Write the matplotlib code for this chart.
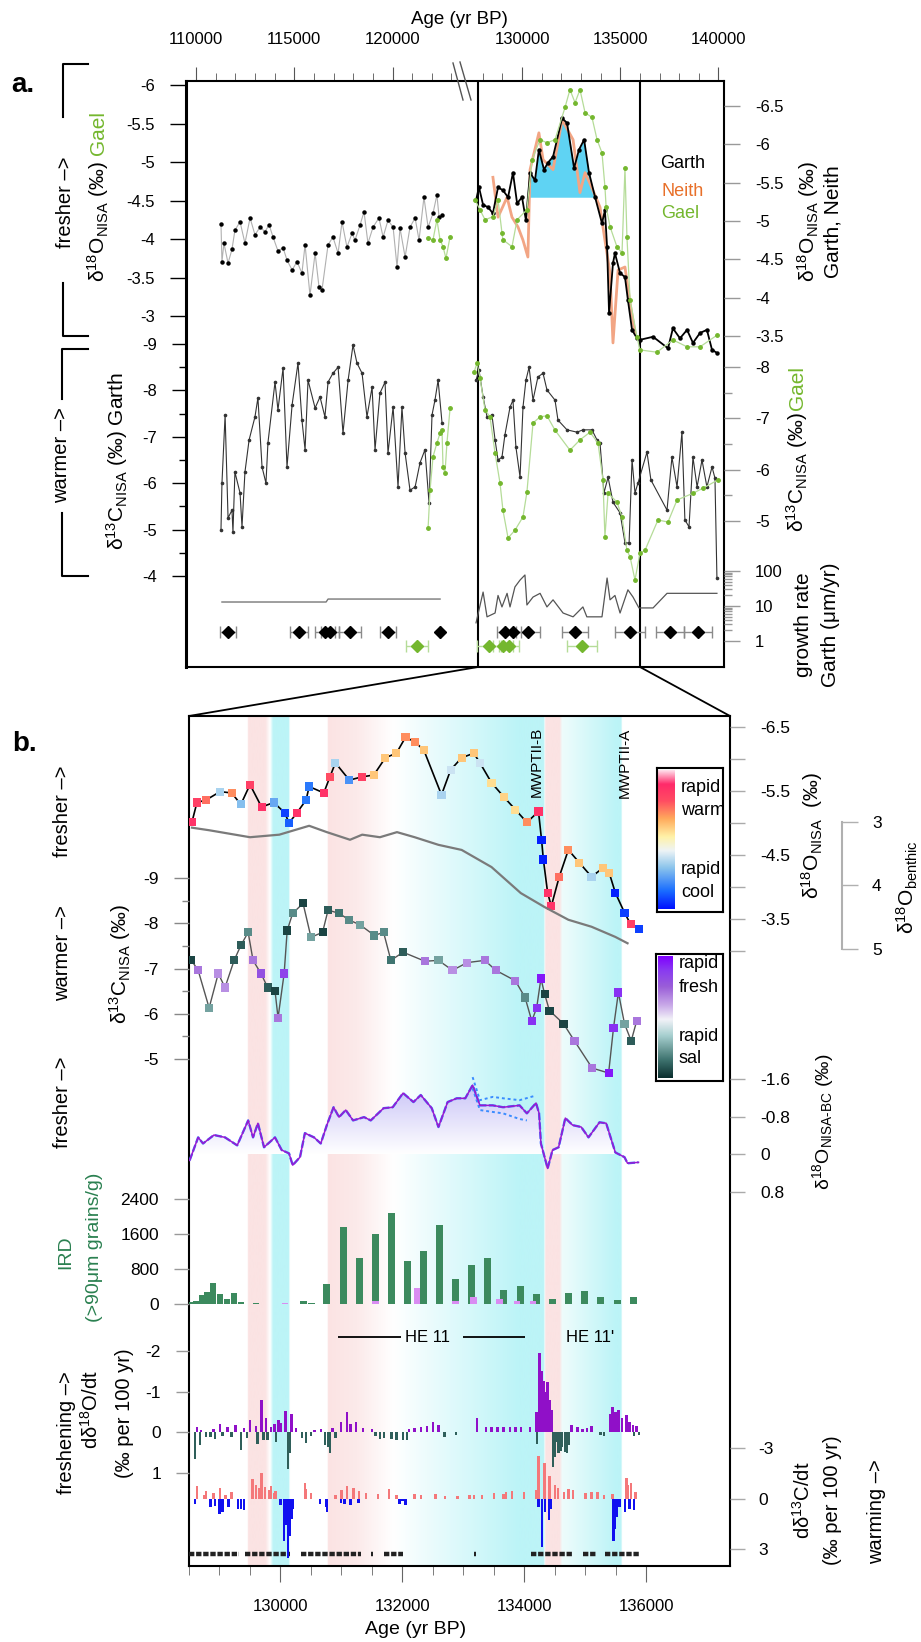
import numpy as np
import matplotlib
matplotlib.use("Agg")
import matplotlib.pyplot as plt
from matplotlib.colors import LinearSegmentedColormap, to_rgb
from matplotlib.lines import Line2D
from matplotlib.patches import ConnectionPatch
from matplotlib.ticker import NullFormatter

plt.rcParams["font.family"] = ["Liberation Sans", "DejaVu Sans"]
plt.rcParams["mathtext.fontset"] = "custom"
plt.rcParams["mathtext.rm"] = "Liberation Sans"
plt.rcParams["mathtext.it"] = "Liberation Sans:italic"
plt.rcParams["mathtext.default"] = "regular"
plt.rcParams["axes.unicode_minus"] = False

# ---------------- panel a data ----------------
# Garth d18O (right axis), left segment
ga_o_age_l = [111270,111320,111420,111630,111830,111980,112240,112490,112750,113000,
              113260,113510,113720,113920,114170,114430,114630,114890,115140,115390,
              115550,115800,116060,116260,116410,116720,116970,117230,117430,117680,
              117940,118090,118350,118550,118750,119010,119310,119520,119770,120030,
              120230,120380,120640,120890,121150,121350,121600,121810,122060,122260,
              122370,122520]
ga_o_val_l = [-4.96,-4.47,-4.71,-4.45,-4.63,-4.88,-4.99,-4.71,-5.04,-4.82,
              -4.92,-4.86,-4.95,-4.79,-4.61,-4.65,-4.49,-4.36,-4.47,-4.32,
              -4.69,-4.03,-4.58,-4.14,-4.10,-4.69,-4.79,-4.58,-4.99,-4.66,
              -4.84,-4.75,-4.95,-5.12,-4.71,-4.92,-5.04,-4.79,-5.01,-4.92,
              -4.40,-4.91,-4.53,-4.92,-5.04,-4.75,-5.31,-4.92,-5.10,-5.34,
              -5.05,-5.08]
# Garth d18O, right segment
ga_o_age_r = [127660,127810,128020,128270,128520,128780,129030,129290,129540,129750,
              130000,130200,130410,130660,130860,131120,131320,131580,132040,132290,
              132650,132900,133160,133410,133720,134070,134220,134330,134430,134630,
              134730,134990,135240,135390,135600,135850,136000,136670,137430,137680,
              138040,138400,138700,139060,139410,139670,139920]
ga_o_val_r = [-5.27,-5.44,-5.21,-5.18,-5.10,-5.44,-5.40,-5.31,-5.63,-5.23,
              -5.31,-5.01,-5.63,-5.53,-5.93,-5.67,-5.76,-5.84,-6.34,-6.28,
              -5.69,-5.93,-6.06,-5.63,-5.31,-4.97,-5.14,-4.66,-3.80,-4.45,
              -4.58,-4.32,-4.27,-3.97,-3.58,-3.47,-3.45,-3.49,-3.34,-3.60,
              -3.47,-3.58,-3.41,-3.54,-3.58,-3.32,-3.28]
# Neith d18O (right axis)
ne_age = [128520,128780,129240,129490,129800,130050,130300,130410,130860,131070,131580,132040,
          132600,132950,133210,133610,133970,134220,134480,134630,134890,135240,135500,135750]
ne_val = [-5.57,-5.05,-5.31,-5.05,-4.92,-4.75,-4.53,-5.67,-6.15,-5.80,-5.67,-6.32,
          -6.06,-5.37,-5.63,-5.40,-5.18,-4.75,-4.32,-3.41,-4.36,-4.40,-3.93,-3.54]
# Gael d18O (left axis)
ge_o_age_l = [121810,122060,122260,122420,122570,122720,122930]
ge_o_val_l = [-4.01,-3.99,-4.25,-3.99,-3.90,-3.75,-4.03]
ge_o_age_r = [127610,127860,128120,128520,128780,128980,129030,129490,129750,130250,
              130510,130920,131270,131680,132190,132440,132700,132950,133210,133560,
              133820,134070,134220,134280,134480,134830,135090,135240,135340,135500,
              135850,136000,136870,137680,138400,139060,139920]
ge_o_val_r = [-4.51,-4.38,-4.25,-4.29,-4.51,-4.08,-3.99,-3.90,-4.25,-4.38,
              -5.03,-5.29,-5.25,-5.29,-5.71,-5.94,-5.77,-5.94,-5.64,-5.58,
              -5.29,-5.12,-4.68,-4.42,-4.16,-3.90,-3.82,-4.92,-4.03,-3.21,
              -2.73,-2.56,-2.53,-2.69,-2.60,-2.60,-2.75]
# cyan fill under the Garth peak
FILL_LO, FILL_HI, FILL_BASE = 130200, 133720, -5.31

# Garth d13C (left axis)
gc_age_l = [111270,111320,111480,111630,111830,111880,111980,112240,112340,112490,
            112700,113000,113150,113360,113560,113660,114020,114170,114430,114630,
            114890,115190,115390,115550,115700,116060,116310,116560,116720,116970,
            117230,117480,117740,117990,118190,118450,118700,118960,119110,119360,
            119620,119770,120030,120280,120480,120640,120890,121150,121400,121650,
            121860,122010,122160,122320,122520]
gc_val_l = [-4.99,-6.00,-7.47,-5.25,-5.42,-4.95,-6.24,-5.79,-5.06,-6.24,
            -6.93,-7.43,-7.84,-6.35,-6.00,-6.87,-8.18,-7.58,-8.48,-6.35,
            -7.69,-8.59,-7.36,-6.72,-8.22,-7.62,-7.86,-7.43,-8.18,-8.37,
            -8.50,-7.08,-8.22,-8.98,-8.59,-8.37,-7.43,-8.07,-6.72,-7.94,
            -8.18,-6.65,-7.64,-5.92,-7.64,-6.65,-5.85,-5.92,-6.44,-6.72,
            -5.57,-7.47,-7.79,-8.22,-7.30]
gc_age_r = [127660,127810,128020,128220,128470,128630,128780,128980,129130,129390,
            129540,129690,129900,130050,130200,130360,130560,130810,131070,131270,
            131680,131830,132290,132800,133100,133560,133820,133970,134170,134380,
            134630,134990,135240,135450,135600,135750,135900,136360,136560,137380,
            137630,137890,138140,138290,138500,138700,138910,139160,139410,139670,
            139820,139920]
gc_val_r = [-8.22,-8.44,-7.86,-7.43,-7.47,-6.93,-6.50,-6.56,-7.04,-7.64,
            -7.79,-6.78,-6.13,-7.64,-8.22,-8.50,-7.79,-8.29,-8.37,-8.01,
            -7.79,-7.36,-7.15,-7.10,-7.15,-7.15,-6.93,-6.87,-5.79,-6.13,
            -5.59,-5.36,-4.72,-4.71,-6.50,-5.79,-6.00,-6.67,-6.07,-5.42,
            -6.56,-5.92,-7.10,-5.21,-5.06,-6.56,-5.92,-6.50,-5.92,-6.35,
            -6.11,-3.96]
# Gael d13C (right axis)
ge_c_age_l = [121810,121910,122060,122260,122420,122520,122570,122670,122770,122930]
ge_c_val_l = [-4.86,-5.60,-6.25,-6.52,-6.71,-6.77,-6.05,-5.93,-6.52,-7.20]
ge_c_age_r = [127560,127710,127860,128120,128370,128630,128880,129030,129290,129640,
              130050,130250,130560,130920,131270,131680,132440,132950,133460,133870,
              134120,134220,134380,134830,135090,135340,135500,135750,136000,136260,
              136920,137430,137890,138700,139210,139970]
ge_c_val_r = [-7.90,-8.08,-7.79,-7.16,-7.03,-6.32,-5.74,-5.21,-4.67,-4.82,
              -5.08,-5.56,-6.91,-7.03,-7.05,-6.77,-6.38,-6.58,-6.73,-6.52,
              -5.80,-4.69,-5.54,-5.37,-5.08,-4.43,-4.30,-3.85,-4.37,-4.43,
              -5.02,-4.98,-5.41,-5.54,-5.64,-5.80]
# growth rate (um/yr)
gr_age_l = [111320,116620,116720,122420]
gr_val_l = [13,13,15.8,15.8]
gr_age_r = [127660,128020,128220,128630,128780,128980,129240,129390,129640,129900,
            130150,130250,130560,130920,131270,131580,132090,132600,133100,133300,
            134070,134330,134480,134730,134990,135390,135650,135950,136670,137380,
            139920]
gr_val_r = [3.3,25,4.9,6.3,20,9.4,23,9.4,35,55,
            77,10.7,18,23,9.4,15,6.3,4.9,9.4,4.9,
            4.9,63,15,20,6.3,29,18,8.8,8.8,23,
            23]
# U-Th dates
garth_dates = [111630,115240,116560,116820,117840,119770,122420,129130,129540,130300,132700,135500,137530,138960]
garth_err = [420,450,500,450,570,420,0,400,400,630,680,780,720,720]
gael_dates = [121250,128320,129030,129340,133050]
gael_err = [540,600,500,500,760]

# ---------------- panel b data ----------------
o_age = [128550,128630,128780,129010,129200,129350,129500,129690,129890,130070,
         130140,130270,130420,130470,130710,130810,130900,131130,131330,131530,
         131720,131900,132050,132200,132350,132640,132790,132970,133170,133270,
         133460,133660,133850,134040,134230,134280,134310,134380,134440,134570,
         134720,134900,135100,135290,135390,135490,135640,135740,135880]
o_val = [-5.02,-5.32,-5.36,-5.49,-5.47,-5.29,-5.60,-5.25,-5.32,-5.16,
         -5.00,-5.16,-5.36,-5.57,-5.47,-5.72,-5.94,-5.67,-5.72,-5.75,
         -6.02,-6.09,-6.34,-6.27,-6.14,-5.44,-5.83,-6.02,-6.09,-5.94,
         -5.63,-5.41,-5.21,-5.01,-5.18,-4.74,-4.43,-3.91,-3.70,-4.16,
         -4.58,-4.38,-4.16,-4.30,-4.22,-3.91,-3.60,-3.42,-3.34]
o_rate = [0.9,0.8,0.6,-0.3,0.5,-0.4,0.8,0.9,-0.5,-0.9,
          -0.8,0.9,-0.7,-0.7,0.9,0.7,-0.3,-0.6,0.8,0.3,
          0.3,0.3,0.5,0.5,0.3,-0.3,-0.2,0.3,0.3,-0.2,
          0.2,0.25,0.2,0.5,0.9,-1,-1,0.9,0.9,0.6,
          0.5,0.3,-0.3,0.3,0.3,-1,-0.9,0.8,-0.9]
c_age = [128540,128650,128830,128980,129090,129240,129350,129470,129550,129680,
         129790,129910,129960,130060,130110,130200,130370,130500,130690,130780,
         130960,131130,131310,131540,131690,131810,132010,132370,132590,132820,
         133060,133350,133530,133850,134010,134120,134200,134270,134330,134410,
         134640,134820,135110,135380,135460,135540,135640,135750,135840]
c_val = [-7.18,-6.96,-6.13,-6.89,-6.58,-7.18,-7.51,-7.80,-7.18,-6.89,
         -6.58,-6.51,-5.91,-6.89,-7.84,-8.22,-8.44,-7.69,-7.80,-8.29,
         -8.22,-8.07,-7.96,-7.73,-7.80,-7.18,-7.36,-7.16,-7.18,-6.96,
         -7.13,-7.18,-6.96,-6.73,-6.36,-5.84,-6.13,-6.78,-6.44,-6.07,
         -5.78,-5.40,-4.80,-4.69,-5.69,-6.47,-5.78,-5.40,-5.84]
c_rate = [-0.9,0.4,-0.5,0.3,0.3,-0.8,-0.8,-0.6,0.4,0.6,
          -0.8,-0.9,0.4,0.7,-0.9,-0.6,-0.9,-0.5,-0.9,-0.8,
          -0.7,-0.6,-0.5,-0.6,-0.6,-0.7,-0.8,0.4,-0.5,0.3,
          0.3,0.4,0.4,0.4,-0.6,0.8,0.8,0.9,-0.9,-0.9,
          -0.9,0.4,0.4,0.9,0.8,0.8,-0.5,-0.8,0.4]
bt_age = [128550,128830,129500,129980,130470,130760,131140,131340,131630,131910,
          132200,132590,132970,133460,133940,134330,134720,135100,135490,135690]
bt_val = [3.09,3.13,3.24,3.20,3.06,3.16,3.28,3.20,3.24,3.16,
          3.24,3.36,3.44,3.71,4.12,4.34,4.54,4.65,4.81,4.91]
bc_age = [128510,128650,128730,128910,129090,129290,129470,129550,129630,129730,
          129910,130020,130140,130200,130320,130400,130550,130660,130760,130870,
          130960,131070,131190,131370,131480,131690,131840,132010,132180,132300,
          132480,132590,132740,132890,133030,133150,133270,133480,133650,133920,
          134040,134190,134240,134270,134330,134380,134460,134560,134670,134790,
          134930,135050,135230,135340,135490,135640,135690,135870]
bc_val = [0.13,-0.36,-0.23,-0.41,-0.36,-0.19,-0.72,-0.36,-0.66,-0.15,
          -0.36,-0.09,-0.02,0.23,0.06,-0.45,-0.36,-0.23,-0.62,-1.00,
          -0.79,-0.94,-0.72,-0.79,-0.72,-0.98,-1.00,-1.30,-1.11,-1.26,
          -0.98,-0.58,-1.11,-1.19,-1.19,-1.47,-1.04,-1.04,-1.00,-1.04,
          -0.87,-1.09,-0.87,-0.23,0.06,0.30,-0.09,-0.15,-0.77,-0.62,
          -0.58,-0.36,-0.68,-0.66,-0.04,0.06,0.19,0.17]
bc_hi_age = [133150,133270,133480,133650,133920,134190]
bc_hi_val = [-1.64,-1.15,-1.22,-1.19,-1.15,-1.25]
bc_lo_age = [133150,133270,133480,133650,133920,134040]
bc_lo_val = [-1.40,-0.94,-0.90,-0.87,-0.75,-0.72]
ird_age = [128517,128615,128714,128795,128894,129008,129123,129237,129352,129597,
           130072,130383,130514,130759,131038,131300,131562,131823,132085,132347,
           132609,132871,133133,133394,133656,133934,134196,134458,134720,134982,
           135244,135522,135784]
ird_val = [50,60,200,270,490,220,110,240,40,30,
           20,60,30,460,1750,1040,1590,2080,990,1200,
           1810,580,880,1040,320,410,220,120,250,290,
           170,100,160]
ird_p_age = [130072,131562,132240,132871,133170,133590,133880,134140]
ird_p_val = [20,60,360,60,170,120,60,60]
ofresh_age = [128630,128700,128900,129010,129130,129260,129400,129500,129600,129690,
              129760,129840,129900,129970,130000,130080,130180,130250,130560,130660,
              130850,130990,131090,131150,131240,131350,131500,132110,132200,132300,
              132400,132500,132590,133220,133370,133460,133560,133660,133760,133850,
              133940,134090,134200,134250,134280,134310,134340,134380,134410,134450,
              134770,134870,134950,135030,135100,135400,135440,135490,135540,135600,
              135670,135720,135780,135840]
ofresh_val = [-0.13,-0.05,-0.08,-0.2,-0.12,-0.17,-0.1,-0.3,-0.15,-0.79,
              -0.35,-0.13,-0.2,-0.3,-0.22,-0.52,-0.46,-0.1,-0.06,-0.09,
              -0.1,-0.25,-0.5,-0.2,-0.25,-0.1,-0.08,-0.09,-0.1,-0.13,
              -0.15,-0.25,-0.17,-0.36,-0.13,-0.12,-0.13,-0.12,-0.13,-0.12,
              -0.13,-0.13,-0.5,-1.95,-1.5,-1.27,-1.0,-1.23,-0.8,-0.54,
              -0.17,-0.12,-0.09,-0.1,-0.15,-0.45,-0.62,-0.5,-0.55,-0.35,
              -0.42,-0.25,-0.17,-0.15]
osal_age = [128600,128680,128780,128850,128930,129050,129200,129350,129450,129620,
            129720,129790,129930,130120,130160,130350,130420,130500,130730,130780,
            130810,130900,131560,131630,131700,131820,131900,132010,132070,132690,
            132880,134210,134470,134490,134530,134560,134600,134620,134670,134700,
            134730,135250,135300,135800,135880]
osal_val = [0.65,0.3,0.11,0.12,0.16,0.1,0.12,0.44,0.15,0.28,
            0.2,0.2,0.25,0.89,0.5,0.15,0.26,0.1,0.32,0.35,
            0.52,0.15,0.1,0.16,0.15,0.16,0.18,0.18,0.2,0.11,
            0.07,0.28,0.85,0.6,0.24,0.5,0.45,0.35,0.48,0.5,
            0.3,0.07,0.1,0.1,0.07]
cwarm_age = [128630,128750,128780,128900,129010,129100,129200,129540,129600,129650,
             129690,129750,129820,129840,129900,129920,130400,130420,130500,130900,
             131000,131090,131200,131290,131400,131600,131780,131900,132200,132300,
             132540,132700,132900,133100,133170,133300,133500,133660,133700,133800,
             133990,134200,134230,134330,134410,134500,134550,134650,134720,134800,
             135000,135100,135200,135300,135440,135670,135700,135750,135820]
cwarm_val = [-0.73,-0.2,-0.45,-0.3,-0.65,-0.2,-0.36,-1.15,-0.8,-0.6,
             -1.5,-0.7,-0.5,-0.75,-0.3,-0.45,-0.9,-0.55,-0.3,-0.2,
             -0.5,-0.75,-0.6,-0.45,-0.3,-0.25,-0.55,-0.2,-0.26,-0.2,
             -0.26,-0.15,-0.15,-0.2,-0.2,-0.2,-0.3,-0.26,-0.4,-0.45,
             -0.36,-0.5,-2.52,-2.13,-1.34,-0.8,-0.6,-0.4,-0.55,-0.5,
             -0.3,-0.39,-0.4,-0.2,-0.26,-1.24,-0.8,-0.95,-0.4]
ccool_age = [128600,128850,128930,129000,129050,129150,129300,129350,129400,130000,
             130060,130080,130100,130120,130150,130180,130200,130650,130750,130760,
             130990,131050,131150,131280,131950,132000,132050,134230,134290,134340,
             134400,134430,135460,135480,135520,135560,135650,135720,135800]
ccool_val = [0.3,0.5,0.43,0.9,0.79,0.5,0.6,0.63,0.7,0.4,
             2.5,1.6,1.2,3.55,2.2,1.2,0.6,0.3,0.5,0.79,
             0.28,0.3,0.4,0.24,0.3,0.14,0.4,0.5,2.9,0.79,
             1.3,0.6,2.5,1.8,1.1,0.5,0.8,0.6,0.7]
sample_lo = [128500,129420,130340,131480,131700,133170,134100,134960,135320]
sample_hi = [129320,130160,131320,131520,132010,133210,134800,135170,135890]
# event shading (pink = warm onset, cyan = fresh)
band_age = [128500,129460,129470,129750,129830,129880,130140,130150,130770,130780,
            131250,131850,133900,134320,134335,134345,134580,134620,135500,135590,
            135600,137370]
band_col = ["w","w","#fbe3e3","#fbe3e3","w","#bcf4f7","#bcf4f7","w","w","#fbe3e3",
            "#fceaea","w","#bcf4f7","#bcf4f7","w","#fbe3e3","#fbe3e3","#eefcfc","#bcf4f7","#bcf4f7",
            "w","w"]
he_lo = [130943, 132992]
he_hi = [131975, 134008]

# ---------------- layout helpers ----------------
W, H = 921, 1642
PT = 72 / 100

fig = plt.figure(figsize=(W / 100, H / 100), dpi=100)


def rect(l, t, r, b):
    return [l / W, 1 - b / H, (r - l) / W, (b - t) / H]


def ftext(x, y, s, **kw):
    kw.setdefault("ha", "center")
    kw.setdefault("va", "center")
    return fig.text(x / W, 1 - y / H, s, **kw)


def fline(xs, ys, **kw):
    fig.add_artist(Line2D([x / W for x in xs], [1 - y / H for y in ys], **kw))


def overlay(base, ylim, side=None, major=(), minor=(), labels=None, tcolor="black",
            lmaj=15, lmin=7, pad=15, log=False, fs=12, lcolor="black"):
    ax = fig.add_axes(base.get_position(), sharex=base, facecolor="none")
    for s in ax.spines.values():
        s.set_visible(False)
    if log:
        ax.set_yscale("log")
    ax.set_ylim(*ylim)
    ax.tick_params(axis="x", which="both", bottom=False, top=False,
                   labelbottom=False, labeltop=False)
    if side is None:
        ax.tick_params(axis="y", which="both", left=False, right=False,
                       labelleft=False, labelright=False)
        return ax
    if side == "right":
        ax.yaxis.tick_right()
    ax.set_yticks(major)
    ax.set_yticklabels(labels if labels is not None else ["%g" % m for m in major])
    ax.set_yticks(minor, minor=True)
    ax.yaxis.set_minor_formatter(NullFormatter())
    ax.tick_params(axis="y", which="major", length=lmaj * PT, color=tcolor, width=1,
                   pad=pad * PT, labelsize=fs, labelcolor=lcolor)
    ax.tick_params(axis="y", which="minor", length=lmin * PT, color=tcolor, width=1)
    return ax


# broken age axis for panel a
BRK, GAP = 123435, 3410


def fwd(a):
    a = np.asarray(a, float)
    return a - np.clip(a - BRK, 0, GAP)


def inv(x):
    x = np.asarray(x, float)
    return np.where(x > BRK, x + GAP, x)


GREEN = "#74b72e"
GREEN_L = "#b5dc98"
ORANGE = "#e8702a"

# ---------------- panel a ----------------
A_XLIM = (109490, 140280)
ZOOM_LO, ZOOM_HI = 127760, 136005
axA = fig.add_axes(rect(186, 81, 724, 667))
axA.set_xscale("function", functions=(fwd, inv))
axA.set_xlim(*A_XLIM)
axA.set_ylim(0, 1)
axA.set_yticks([])
axA.xaxis.tick_top()
axA.set_xticks([110000, 115000, 120000, 130000, 135000, 140000])
axA.set_xticklabels(["110000", "115000", "120000", "130000", "135000", "140000"])
axA.set_xticks([y for y in list(range(111000, 124000, 1000)) + list(range(128000, 140000, 1000))
                if y % 5000], minor=True)
axA.tick_params(axis="x", which="major", length=14 * PT, pad=20 * PT, labelsize=12, color="#555")
axA.tick_params(axis="x", which="minor", length=8 * PT, color="#555")
for s in axA.spines.values():
    s.set_linewidth(1.5)
axA.spines["left"].set_linewidth(2.2)
axA.axvline(ZOOM_LO, color="black", lw=1.5)
axA.axvline(ZOOM_HI, color="black", lw=1.5)

ax_go = overlay(axA, (0.817, -6.826), "right", np.arange(-6.5, -3.4, 0.5), tcolor="#999",
                lmaj=16)
ax_ge = overlay(axA, (1.558, -6.052), "left", np.arange(-6, -2.9, 0.5), tcolor="black",
                lmaj=16)
ax_gc = overlay(axA, (-2.039, -14.668), "left", [-9, -8, -7, -6, -5, -4],
                minor=[-8.5, -7.5, -6.5, -5.5, -4.5], lmaj=14)
ax_gec = overlay(axA, (-2.156, -13.572), "right", [-8, -7, -6, -5],
                 minor=[-7.5, -6.5, -5.5], tcolor="#999", lmaj=16, lmin=8)
ax_gr = overlay(axA, (0.1807, 1e16), "right", [1, 10, 100], log=True,
                minor=[2, 3, 4, 5, 6, 7, 8, 9, 20, 30, 40, 50, 60, 70, 80, 90],
                labels=["1", "10", "100"], tcolor="#999", lmaj=16, lmin=8)
ax_dt = overlay(axA, (2.5, -39.36))

# d18O
m = (np.array(ga_o_age_r) >= FILL_LO) & (np.array(ga_o_age_r) <= FILL_HI)
fa, fv = np.array(ga_o_age_r)[m], np.array(ga_o_val_r)[m]
ax_go.fill_between(fa, fv, FILL_BASE, where=fv < FILL_BASE, interpolate=True,
                   color="#5fd3f3", lw=0, zorder=1)
ax_go.plot(ne_age, ne_val, color="#f2a584", lw=2, zorder=2)
ax_ge.plot(ge_o_age_l, ge_o_val_l, color=GREEN_L, lw=0.9, marker="o", ms=2.5,
           mfc=GREEN, mec=GREEN, zorder=2)
ax_ge.plot(ge_o_age_r, ge_o_val_r, color=GREEN_L, lw=0.9, marker="o", ms=2.5,
           mfc=GREEN, mec=GREEN, zorder=2)
ax_go.plot(ga_o_age_l, ga_o_val_l, color="#b0b0b0", lw=0.8, marker="o", ms=2.2,
           mfc="black", mec="black", zorder=3)
ax_go.plot(ga_o_age_r, ga_o_val_r, color="black", lw=1.3, marker="o", ms=2.2,
           mfc="black", mec="black", zorder=3)

# d13C
ax_gec.plot(ge_c_age_l, ge_c_val_l, color=GREEN_L, lw=0.9, marker="o", ms=2.5,
            mfc=GREEN, mec=GREEN, zorder=2)
ax_gec.plot(ge_c_age_r, ge_c_val_r, color=GREEN_L, lw=0.9, marker="o", ms=2.5,
            mfc=GREEN, mec=GREEN, zorder=2)
ax_gc.plot(gc_age_l, gc_val_l, color="#333", lw=0.8, marker="o", ms=1.6, zorder=3)
ax_gc.plot(gc_age_r, gc_val_r, color="#333", lw=0.8, marker="o", ms=1.6, zorder=3)

# growth rate
ax_gr.plot(gr_age_l, gr_val_l, color="#777", lw=1)
ax_gr.plot(gr_age_r, gr_val_r, color="#555", lw=0.9)

# dates
ax_dt.errorbar(garth_dates, np.zeros(len(garth_dates)), xerr=garth_err, fmt="D",
               color="black", ms=6, ecolor="#8a8a8a", elinewidth=1, capsize=4)
ax_dt.errorbar(gael_dates, np.ones(len(gael_dates)), xerr=gael_err, fmt="D",
               color=GREEN, ms=6, ecolor=GREEN_L, elinewidth=1, capsize=4)

# panel a texts
ftext(459, 19, "Age (yr BP)", fontsize=13.5)
ftext(23, 85, "a.", fontsize=20, fontweight="bold")
ftext(65, 202, "fresher –>", fontsize=14.5, rotation=90)
ftext(98, 222, r"δ$^{18}$O$_{NISA}$ (‰)", fontsize=15, rotation=90)
ftext(98, 133, "Gael", fontsize=15, rotation=90, color=GREEN)
ftext(62, 455, "warmer –>", fontsize=14.5, rotation=90)
ftext(117, 461, r"δ$^{13}$C$_{NISA}$ (‰) Garth", fontsize=15, rotation=90)
ftext(808, 222, r"δ$^{18}$O$_{NISA}$ (‰)", fontsize=15, rotation=90)
ftext(833, 222, "Garth, Neith", fontsize=15, rotation=90)
ftext(797, 472, r"δ$^{13}$C$_{NISA}$ (‰)", fontsize=15, rotation=90)
ftext(797, 388, "Gael", fontsize=15, rotation=90, color=GREEN)
ftext(803, 625, "growth rate", fontsize=15, rotation=90)
ftext(830, 625, "Garth (μm/yr)", fontsize=15, rotation=90)
ftext(683, 163, "Garth", fontsize=13)
ftext(683, 191, "Neith", fontsize=13, color=ORANGE)
ftext(680, 213, "Gael", fontsize=13, color=GREEN)
fline([88, 63, 63], [64, 64, 117], color="black", lw=1.5)
fline([63, 63, 88], [283, 336, 336], color="black", lw=1.5)
fline([88, 62, 62], [349, 349, 399], color="black", lw=1.5)
fline([62, 62, 88], [513, 576, 576], color="black", lw=1.5)
fline([453, 463], [63, 100], color="#555", lw=1)
fline([460, 471], [62, 100], color="#555", lw=1)

# ---------------- panel b ----------------
B_XLIM = (128500, 137370)
axB = fig.add_axes(rect(189, 716, 730, 1566))
axB.set_xlim(*B_XLIM)
axB.set_ylim(0, 1)
axB.set_yticks([])
axB.set_xticks([130000, 132000, 134000, 136000])
axB.set_xticklabels(["130000", "132000", "134000", "136000"])
axB.set_xticks([t for t in range(128500, 136001, 500) if t % 2000], minor=True)
axB.tick_params(axis="x", which="major", length=16 * PT, pad=17 * PT, labelsize=12, color="#666")
axB.tick_params(axis="x", which="minor", length=9 * PT, color="#666")
for s in axB.spines.values():
    s.set_linewidth(1.5)

grid = np.linspace(*B_XLIM, 3000)
rgb = np.array([to_rgb(c) for c in band_col])
strip = np.stack([np.interp(grid, band_age, rgb[:, k]) for k in range(3)], axis=-1)[None]
axB.imshow(strip, extent=[B_XLIM[0], B_XLIM[1], 0, 1], aspect="auto", zorder=0,
           interpolation="bilinear")
axB.hlines(np.full(len(sample_lo), 0.0141), sample_lo, sample_hi, color="#222", lw=3.2,
           linestyles=(0, (1.2, 0.4)), zorder=3)
axB.hlines(np.full(len(he_lo), 0.269), he_lo, he_hi, color="black", lw=1.3, zorder=3)
axB.text(132418, 0.269, "HE 11", ha="center", va="center", fontsize=12)
axB.text(135074, 0.269, "HE 11'", ha="center", va="center", fontsize=12)

warm_cmap = LinearSegmentedColormap.from_list("warm", [
    (0.0, "#0010ff"), (0.13, "#1a6dff"), (0.3, "#8ec6ec"), (0.42, "#eef4f6"),
    (0.52, "#fff2a8"), (0.65, "#ffaa5c"), (0.78, "#ff4c62"), (0.9, "#ff2a6a"), (1.0, "#ffe0ec")])
fresh_cmap = LinearSegmentedColormap.from_list("fresh", [
    (0.0, "#0a2e2e"), (0.15, "#3f7470"), (0.35, "#a8d0d0"), (0.48, "#f2f2f8"),
    (0.6, "#c8a8e8"), (0.75, "#9a5ed8"), (0.88, "#8a3cf0"), (1.0, "#8000ff")])
lav_cmap = LinearSegmentedColormap.from_list("lav", ["#ffffff", "#c4bef6"])

ax_o = overlay(axB, (6.609, -6.672), "right", np.arange(-6.5, -2.9, 0.5),
               labels=["-6.5", "", "-5.5", "", "-4.5", "", "-3.5", ""],
               tcolor="#aaa", lmaj=15, fs=12.5)
ax_bt = overlay(axB, (14.717, 1.331), "right", [3, 4, 5], tcolor="#b0b0b0",
                lmaj=16, pad=14, fs=12.5)
ax_bt.spines["right"].set_visible(True)
ax_bt.spines["right"].set_position(("outward", (842 - 730) * PT))
ax_bt.spines["right"].set_bounds(3, 5)
ax_bt.spines["right"].set_color("#b0b0b0")
ax_bt.spines["right"].set_linewidth(1.5)
ax_c = overlay(axB, (6.204, -12.58), "left", [-9, -8, -7, -6, -5],
               minor=[-8.5, -7.5, -6.5, -5.5], tcolor="#888", lmaj=15, fs=12.5)
ax_bc = overlay(axB, (8.744, -9.31), "right", [-1.6, -0.8, 0, 0.8], tcolor="#aaa",
                lmaj=15, fs=12.5)
ax_ird = overlay(axB, (-5989, 13440), "left", [0, 800, 1600, 2400], tcolor="#999",
                 lmaj=15, fs=12.5)
ax_od = overlay(axB, (3.287, -17.61), "left", [-2, -1, 0, 1], tcolor="#999",
                lmaj=13, fs=12.5)
ax_cd = overlay(axB, (4.01, -46.49), "right", [-3, 0, 3], tcolor="#aaa",
                lmaj=15, pad=13, fs=12.5)

# benthic and d18O
ax_bt.plot(bt_age, bt_val, color="#7a7a7a", lw=1.6, zorder=2)
ax_o.plot(o_age, o_val, color="black", lw=1.2, marker="o", ms=2.2, zorder=3)
ax_o.scatter(o_age, o_val, c=o_rate, cmap=warm_cmap, vmin=-1.05, vmax=1.2, marker="s",
             s=34, linewidths=0, zorder=4)
# d13C
ax_c.plot(c_age, c_val, color="#555", lw=1, zorder=3)
ax_c.scatter(c_age, c_val, c=c_rate, cmap=fresh_cmap, vmin=-1, vmax=1, marker="s",
             s=34, linewidths=0, zorder=4)
# d18O NISA-BC
poly = ax_bc.fill_between(bc_age, bc_val, 0, facecolor="none", edgecolor="none")
im = ax_bc.imshow(np.linspace(0, 1, 256)[:, None], cmap=lav_cmap, origin="lower",
                  aspect="auto", extent=[bc_age[0], bc_age[-1], 0, -1.6], zorder=1)
im.set_clip_path(poly.get_paths()[0], transform=ax_bc.transData)
ax_bc.plot(bc_age, bc_val, color="#3a6cff", lw=1.7, ls=(0, (3, 1)), zorder=2)
ax_bc.plot(bc_hi_age, bc_hi_val, color="#3a8cff", lw=1.4, ls=(0, (1.5, 1.5)), zorder=2)
ax_bc.plot(bc_lo_age, bc_lo_val, color="#3a8cff", lw=1.4, ls=(0, (1.5, 1.5)), zorder=2)
ax_bc.plot(bc_age, bc_val, color="#9a1ad0", lw=1.1, zorder=3)
# IRD
ax_ird.bar(ird_age, ird_val, width=110, color="#3c8a5e", lw=0, zorder=2)
ax_ird.bar(ird_p_age, ird_p_val, width=110, color="#d98cf2", lw=0, zorder=3)
# rates
ax_od.bar(ofresh_age, ofresh_val, width=40, color="#9010c8", lw=0, zorder=2)
ax_od.bar(osal_age, osal_val, width=40, color="#2f5f5a", lw=0, zorder=2)
ax_cd.bar(cwarm_age, cwarm_val, width=40, color="#f4787a", lw=0, zorder=2)
ax_cd.bar(ccool_age, ccool_val, width=40, color="#1010f0", lw=0, zorder=2)

# colour legends
for box, cmap, strip_x, words in [
    (rect(657, 768, 723, 912), warm_cmap, (0.015, 0.26),
     [(0.868, "rapid"), (0.708, "warm"), (0.292, "rapid"), (0.132, "cool")]),
    (rect(656, 954, 723, 1081), fresh_cmap, (0.03, 0.24),
     [(0.929, "rapid"), (0.740, "fresh"), (0.354, "rapid"), (0.181, "sal")])]:
    axl = fig.add_axes(box, facecolor="white")
    axl.set_xlim(0, 1)
    axl.set_ylim(0, 1)
    axl.set_xticks([])
    axl.set_yticks([])
    for s in axl.spines.values():
        s.set_linewidth(1.5)
    axl.imshow(np.linspace(0, 1, 256)[:, None], cmap=cmap, origin="lower", aspect="auto",
               extent=[strip_x[0], strip_x[1], 0.02, 0.98])
    for yy, w in words:
        axl.text(strip_x[1] + 0.1, yy, w, ha="left", va="center", fontsize=13)

# connectors from panel a to panel b
for xa, xb in [(ZOOM_LO, B_XLIM[0]), (ZOOM_HI, B_XLIM[1])]:
    fig.add_artist(ConnectionPatch(xyA=(xa, 0), coordsA=axA.get_xaxis_transform(),
                                   xyB=(xb, 1), coordsB=axB.get_xaxis_transform(),
                                   color="black", lw=1.3))

# panel b texts
ftext(25, 744, "b.", fontsize=20, fontweight="bold")
ftext(63, 811, "fresher –>", fontsize=14.5, rotation=90)
ftext(63, 953, "warmer –>", fontsize=14.5, rotation=90)
ftext(63, 1102, "fresher –>", fontsize=14.5, rotation=90)
ftext(120, 964, r"δ$^{13}$C$_{NISA}$ (‰)", fontsize=15, rotation=90)
ftext(537, 762, "MWPTII-B", fontsize=11, rotation=90)
ftext(625, 763, "MWPTII-A", fontsize=11, rotation=90)
ftext(812, 836, r"δ$^{18}$O$_{NISA}$  (‰)", fontsize=15, rotation=90)
ftext(907, 887, r"δ$^{18}$O$_{benthic}$", fontsize=15, rotation=90)
ftext(823, 1122, r"δ$^{18}$O$_{NISA‑BC}$ (‰)", fontsize=14, rotation=90)
ftext(66, 1252, "IRD", fontsize=14, rotation=90, color="#2a8050")
ftext(94, 1247, "(>90μm grains/g)", fontsize=14, rotation=90, color="#2a8050")
ftext(66, 1433, "freshening –>", fontsize=14.5, rotation=90)
ftext(91, 1410, r"dδ$^{18}$O/dt", fontsize=14.5, rotation=90)
ftext(124, 1413, "(‰ per 100 yr)", fontsize=14.5, rotation=90)
ftext(803, 1500, r"dδ$^{13}$C/dt", fontsize=14.5, rotation=90)
ftext(832, 1500, "(‰ per 100 yr)", fontsize=14.5, rotation=90)
ftext(877, 1512, "warming –>", fontsize=14.5, rotation=90)
ftext(416, 1629, "Age (yr BP)", fontsize=14)

axA.set_xlim(*A_XLIM)
axB.set_xlim(*B_XLIM)
fig.savefig("out.png", dpi=100, facecolor="white")
